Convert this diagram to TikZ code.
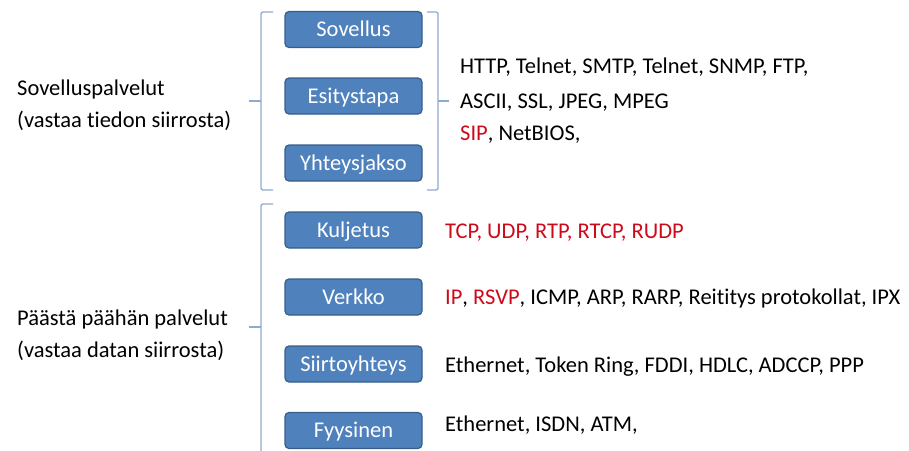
\documentclass[tikz,border=0pt]{standalone}
\usepackage{fontspec}
\setmainfont[Ligatures=NoCommon]{Carlito}
\definecolor{layerfill}{HTML}{4F81BD}
\definecolor{layerdraw}{HTML}{385D8A}
\definecolor{bracecol}{HTML}{8EAAD0}
\definecolor{protored}{HTML}{CC0A1A}
\begin{document}
\begin{tikzpicture}[x=1pt,y=-1pt,
  layer/.style={draw=layerdraw, line width=1.2pt, fill=layerfill, rounded corners=4pt,
    minimum width=137pt, minimum height=36pt, inner sep=0pt,
    text height=14pt, text depth=0pt,
    text=white, font=\fontsize{22.5}{26}\selectfont},
  proto/.style={anchor=base west, inner sep=0pt, font=\fontsize{22.5}{26}\selectfont},
  group/.style={anchor=base west, inner sep=0pt, align=left, font=\fontsize{22.5}{32}\selectfont},
  brace/.style={draw=bracecol, line width=1.3pt, rounded corners=2pt}]
\useasboundingbox (0,0) rectangle (909,450);

% protocol stack layers
\node[layer] (sov) at (353.5,29.5) {Sovellus};
\node[layer] (esi) at (353.5,96) {Esitystapa};
\node[layer] (yht) at (353.5,163) {Yhteysjakso};
\node[layer] (kul) at (353.5,230) {Kuljetus};
\node[layer] (ver) at (353.5,297) {Verkko};
\node[layer] (sii) at (353.5,364) {Siirtoyhteys};
\node[layer] (fyy) at (353.5,430.5) {Fyysinen};

% group labels
\node[group] (ylabel) at (17,127) {Sovelluspalvelut\\(vastaa tiedon siirrosta)};
\node[group] (alabel) at (17,357) {Päästä päähän palvelut\\(vastaa datan siirrosta)};

% protocols per layer
\node[proto] (p1) at (460,73) {HTTP, Telnet, SMTP, Telnet, SNMP, FTP,};
\node[proto] (p2) at (460,108) {ASCII, SSL, JPEG, MPEG};
\node[proto] (p3) at (460,140) {\textcolor{protored}{SIP}, NetBIOS,};
\node[proto, text=protored] (p4) at (445,238) {TCP, UDP, RTP, RTCP, RUDP};
\node[proto] (p5) at (445,304) {\textcolor{protored}{IP}, \textcolor{protored}{RSVP}, ICMP, ARP, RARP, Reititys protokollat, IPX};
\node[proto] (p6) at (445,372) {Ethernet, Token Ring, FDDI, HDLC, ADCCP, PPP};
\node[proto] (p7) at (445,431) {Ethernet, ISDN, ATM,};

% brackets
\coordinate (b1t) at (273,12);
\coordinate (b1b) at (273,190);
\draw[brace] (b1t) -- (261,12) -- (261,190) -- (b1b);
\draw[draw=bracecol, line width=1.3pt] (261,101) -- (249,101);

\coordinate (b2t) at (427,12);
\coordinate (b2b) at (427,190);
\draw[brace] (b2t) -- (438,12) -- (438,190) -- (b2b);
\draw[draw=bracecol, line width=1.3pt] (438,101) -- (449,101);

\coordinate (b3t) at (273,204);
\coordinate (b3b) at (261,452);
\draw[brace] (b3t) -- (261,204) -- (b3b);
\draw[draw=bracecol, line width=1.3pt] (261,327) -- (249,327);
\end{tikzpicture}
\end{document}
